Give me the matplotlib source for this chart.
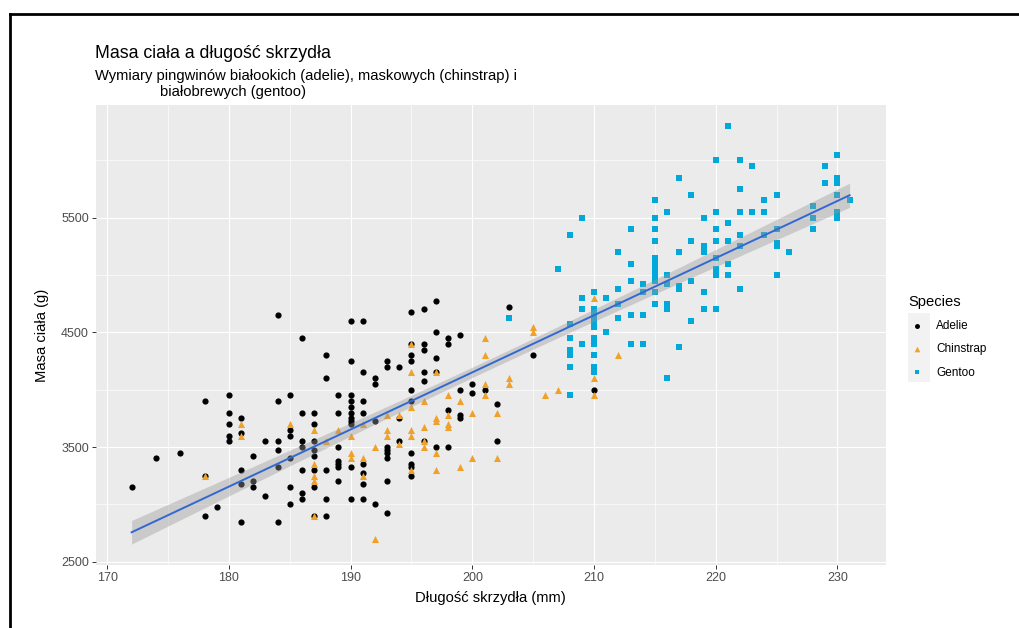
import numpy as np
import matplotlib
matplotlib.use("Agg")
import matplotlib.pyplot as plt
from matplotlib.lines import Line2D
from matplotlib.patches import Rectangle

plt.rcParams['font.family'] = ['Liberation Sans', 'DejaVu Sans']

# data: flipper length (mm) and body mass (g)
adelie_flipper = [184, 172, 174, 176, 178, 178, 178, 179,
                  180, 180, 180, 180, 180, 181, 181, 181, 181, 181,
                  182, 182, 182, 183, 183, 184, 184, 184, 184, 184,
                  185, 185, 185, 185, 185, 185,
                  195, 190, 191, 186, 188, 190, 191, 188, 192, 192, 193, 193, 194,
                  195, 195, 195, 195, 195,
                  189, 190, 190, 191, 190, 186, 187, 187, 189, 190, 190, 190, 190, 191,
                  186, 186, 187, 187, 187, 187, 187, 186, 186, 186, 188, 188, 188, 187,
                  189, 189, 189, 189, 189, 190, 190, 191, 191, 191, 191, 192, 192,
                  193, 193, 193, 193, 193, 193, 194, 194, 195, 195, 195, 195,
                  197, 196, 203, 197, 198, 198, 199, 196, 196, 197, 196, 196, 197,
                  205, 201, 199, 200, 200, 202, 198, 199, 199, 196, 197, 198, 202, 210]
adelie_mass = [4650, 3150, 3400, 3450, 3900, 3250, 2900, 2975,
               3950, 3800, 3700, 3600, 3550, 3750, 3625, 3300, 3175, 2850,
               3425, 3200, 3150, 3550, 3075, 3900, 3550, 3475, 3325, 2850,
               3950, 3650, 3600, 3400, 3150, 3000,
               4675, 4600, 4600, 4450, 4300, 4250, 4150, 4100, 4100, 4050, 4250, 4200, 4200,
               4400, 4300, 4250, 4000, 3900,
               3950, 3950, 3900, 3900, 3850, 3800, 3800, 3700, 3800, 3800, 3750, 3725, 3700, 3800,
               3550, 3500, 3550, 3475, 3425, 3300, 3150, 3300, 3100, 3050, 3300, 3050, 2900, 2900,
               3500, 3375, 3350, 3325, 3200, 3325, 3050, 3350, 3275, 3175, 3050, 3725, 3000,
               3500, 3475, 3450, 3400, 3200, 2925, 3750, 3550, 3450, 3350, 3325, 3250,
               4775, 4700, 4725, 4500, 4450, 4400, 4475, 4400, 4350, 4275, 4150, 4075, 4150,
               4300, 4000, 4000, 4050, 3975, 3875, 3825, 3775, 3750, 3550, 3500, 3500, 3550, 4000]

chinstrap_flipper = [178, 181, 181, 185,
                     195, 195, 195, 187, 191, 189, 190, 188, 187, 187, 187, 187,
                     190, 190, 191, 191, 192, 192, 193, 193, 193, 194, 194, 195, 195, 195,
                     197, 201, 201, 205, 205, 203, 203, 201, 201, 198, 199, 196, 202, 200,
                     198, 197, 197, 198, 198, 196, 196, 196, 197, 200, 202, 199, 197,
                     206, 207, 210, 210, 210, 212]
chinstrap_mass = [3250, 3700, 3600, 3700,
                  4400, 4150, 3850, 3650, 3700, 3650, 3600, 3550, 3350, 3250, 3200, 2900,
                  3450, 3400, 3400, 3250, 3500, 2700, 3775, 3650, 3600, 3775, 3525, 3300, 3650, 3600,
                  4150, 4450, 4300, 4550, 4500, 4100, 4050, 4050, 3950, 3950, 3900, 3900, 3800, 3800,
                  3775, 3750, 3725, 3700, 3675, 3675, 3550, 3500, 3450, 3400, 3400, 3325, 3300,
                  3950, 4000, 4800, 4100, 3950, 4300]

gentoo_flipper = [203, 207, 208, 208, 208, 208, 208, 208, 208,
                  209, 209, 209, 209,
                  210, 210, 210, 210, 210, 210, 210, 210, 210, 210, 210,
                  211, 211, 212, 212, 212, 212,
                  213, 213, 213, 213, 213, 214, 214, 214, 214,
                  215, 215, 215, 215, 215, 215, 215, 215, 215, 215, 215,
                  216, 216, 216, 216, 216, 216,
                  217, 217, 217, 217, 217, 218, 218, 218, 218,
                  219, 219, 219, 219, 219,
                  220, 220, 220, 220, 220, 220, 220, 220,
                  221, 221, 221, 221, 221,
                  222, 222, 222, 222, 222, 222, 223, 223,
                  224, 224, 224, 225, 225, 225, 225, 225, 226,
                  228, 228, 228, 229, 229,
                  230, 230, 230, 230, 230, 230, 231]
gentoo_mass = [4625, 5050, 5350, 4575, 4450, 4350, 4300, 4200, 3950,
               5500, 4800, 4700, 4400,
               4850, 4700, 4650, 4600, 4550, 4450, 4425, 4400, 4300, 4200, 4150,
               4800, 4500, 5200, 4875, 4750, 4625,
               5400, 5100, 4950, 4650, 4400, 4925, 4850, 4650, 4400,
               5650, 5500, 5400, 5300, 5150, 5100, 5050, 5000, 4950, 4850, 4750,
               5550, 5000, 4925, 4750, 4700, 4100,
               5850, 5200, 4900, 4875, 4375, 5700, 5300, 4950, 4600,
               5500, 5250, 5200, 4850, 4700,
               6000, 5550, 5400, 5300, 5150, 5050, 5000, 4700,
               6300, 5450, 5300, 5100, 5000,
               6000, 5750, 5550, 5350, 5250, 4875, 5950, 5550,
               5650, 5550, 5350, 5700, 5400, 5275, 5250, 5000, 5200,
               5600, 5500, 5400, 5950, 5800,
               6050, 5850, 5800, 5700, 5550, 5500, 5650]

species = ['Adelie', 'Chinstrap', 'Gentoo']
colors = ['black', '#F0A12B', '#00A9D9']
markers = ['o', '^', 's']
sizes = [20, 26, 18]

# linear fit with 95% confidence band (like geom_smooth(method = "lm"))
x_all = np.array(adelie_flipper + chinstrap_flipper + gentoo_flipper, dtype=float)
y_all = np.array(adelie_mass + chinstrap_mass + gentoo_mass, dtype=float)
n = len(x_all)
slope, intercept = np.polyfit(x_all, y_all, 1)
resid = y_all - (intercept + slope * x_all)
sigma = np.sqrt(np.sum(resid ** 2) / (n - 2))
xs = np.linspace(x_all.min(), x_all.max(), 80)
ys = intercept + slope * xs
se = sigma * np.sqrt(1 / n + (xs - x_all.mean()) ** 2 / np.sum((x_all - x_all.mean()) ** 2))
t = 1.968
lo, hi = ys - t * se, ys + t * se

W, H = 1020, 628
fig = plt.figure(figsize=(W / 100, H / 100), dpi=100)
ax = fig.add_axes([95.7 / W, 1 - 565 / H, (885.5 - 95.7) / W, (565 - 105) / H])
ax.set_facecolor('#EBEBEB')
for s in ax.spines.values():
    s.set_visible(False)

data = [(adelie_flipper, adelie_mass), (chinstrap_flipper, chinstrap_mass),
        (gentoo_flipper, gentoo_mass)]
for (fx, my), name, c, m, sz in zip(data, species, colors, markers, sizes):
    ax.scatter(fx, my, s=sz, c=c, marker=m, linewidths=0, label=name, zorder=3)

ax.fill_between(xs, lo, hi, color='#999999', alpha=0.4, linewidth=0, zorder=4)
ax.plot(xs, ys, color='#3268D2', lw=1.4, zorder=5)

# scales with ggplot style 5% expansion
xr = x_all.max() - x_all.min()
ax.set_xlim(x_all.min() - 0.05 * xr, x_all.max() + 0.05 * xr)
ymin = min(y_all.min(), lo.min())
ymax = max(y_all.max(), hi.max())
yr = ymax - ymin
ax.set_ylim(ymin - 0.05 * yr, ymax + 0.05 * yr)

ax.set_xticks(np.arange(170, 231, 10))
ax.set_xticks(np.arange(175, 231, 10), minor=True)
ax.set_yticks([2500, 3500, 4500, 5500])
ax.set_yticks([3000, 4000, 5000, 6000], minor=True)
ax.grid(which='major', color='white', lw=0.85, zorder=0)
ax.grid(which='minor', color='white', lw=0.45, zorder=0)
ax.set_axisbelow(True)
ax.tick_params(which='major', length=2.8, width=0.7, color='#333333',
               labelcolor='#4D4D4D', labelsize=9, pad=2)
ax.tick_params(which='minor', length=0)

ax.set_xlabel('Długość skrzydła (mm)', fontsize=10.6, labelpad=5)
ax.set_ylabel('Masa ciała (g)', fontsize=10.6, labelpad=9)

fig.text(95 / W, 1 - 58 / H, 'Masa ciała a długość skrzydła', fontsize=12.8,
         ha='left', va='baseline')
fig.text(95 / W, 1 - 80 / H,
         'Wymiary pingwinów białookich (adelie), maskowych (chinstrap) i',
         fontsize=10.6, ha='left', va='baseline')
fig.text(160 / W, 1 - 96 / H, 'białobrewych (gentoo)', fontsize=10.6,
         ha='left', va='baseline')

# legend, with grey key background like ggplot
fig.add_artist(Rectangle((908 / W, 1 - 382 / H), 22 / W, 69 / H, zorder=-1,
                         transform=fig.transFigure, color='#F2F2F2', lw=0))
leg = ax.legend(title='Species', loc='upper left', bbox_to_anchor=(902 / W, 1 - 289 / H),
                bbox_transform=fig.transFigure, frameon=False, fontsize=8.5,
                title_fontsize=10.6, alignment='left', handlelength=1.5, borderpad=0,
                handletextpad=0.9, labelspacing=0.95, markerscale=0.8)

# frame lines at top and left of the image
fig.add_artist(Line2D([10 / W, 1], [1 - 14 / H, 1 - 14 / H], color='black', lw=2,
                      transform=fig.transFigure))
fig.add_artist(Line2D([10 / W, 10 / W], [0, 1 - 14 / H], color='black', lw=2,
                      transform=fig.transFigure))

fig.savefig('out.png', dpi=100)
